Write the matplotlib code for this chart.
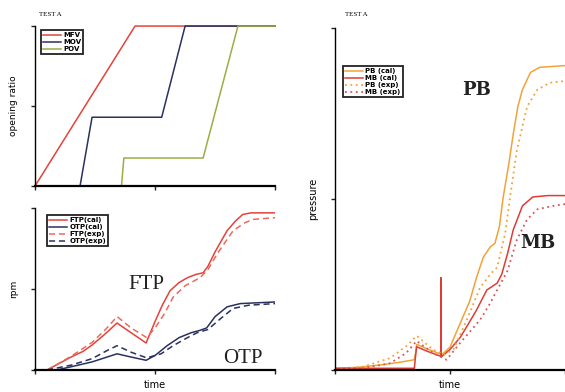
import numpy as np
import matplotlib.pyplot as plt

# ---- valve opening (top left)
t_mfv = [0, 0.833, 2.0]
mfv = [0, 1, 1]
t_mov = [0, 0.375, 0.475, 1.055, 1.25, 2.0]
mov = [0, 0, 0.43, 0.43, 1, 1]
t_pov = [0, 0.72, 0.74, 1.40, 1.69, 2.0]
pov = [0, 0, 0.175, 0.175, 1, 1]

# ---- pump speed (bottom left)
t_ftp_cal = [0.1, 0.2, 0.3, 0.4, 0.475, 0.58, 0.683, 0.8, 0.925, 1.0, 1.06, 1.125, 1.2, 1.27,
             1.34, 1.4, 1.44, 1.5, 1.6, 1.67, 1.73, 1.8, 2.0]
ftp_cal = [0, 0.04, 0.08, 0.115, 0.154, 0.22, 0.29, 0.23, 0.167, 0.30, 0.40, 0.49, 0.54, 0.57,
           0.59, 0.60, 0.64, 0.73, 0.86, 0.92, 0.96, 0.97, 0.97]
t_ftp_exp = [0.1, 0.3, 0.475, 0.6, 0.683, 0.8, 0.93, 1.0, 1.08, 1.15, 1.25, 1.375, 1.44, 1.52,
             1.65, 1.75, 1.82, 2.0]
ftp_exp = [0, 0.085, 0.17, 0.26, 0.33, 0.26, 0.2, 0.26, 0.35, 0.45, 0.52, 0.57, 0.62, 0.72,
           0.86, 0.91, 0.93, 0.94]
t_otp_cal = [0.18, 0.3, 0.475, 0.6, 0.683, 0.8, 0.925, 1.0, 1.1, 1.2, 1.3, 1.375, 1.43, 1.5,
             1.6, 1.71, 2.0]
otp_cal = [0, 0.02, 0.05, 0.08, 0.10, 0.08, 0.06, 0.09, 0.15, 0.2, 0.23, 0.245, 0.26, 0.33,
           0.39, 0.41, 0.42]
t_otp_exp = [0.1, 0.3, 0.475, 0.6, 0.683, 0.8, 0.93, 1.05, 1.15, 1.27, 1.35, 1.44, 1.55, 1.65,
             1.78, 2.0]
otp_exp = [0, 0.03, 0.07, 0.12, 0.15, 0.11, 0.075, 0.1, 0.15, 0.2, 0.23, 0.25, 0.32, 0.38,
           0.40, 0.41]

# ---- pressures (right)
t_pb_cal = [0, 0.2, 0.4, 0.55, 0.69, 0.70, 0.71, 0.8, 0.93, 1.0, 1.08, 1.17, 1.23, 1.29, 1.35,
            1.39, 1.43, 1.46, 1.51, 1.55, 1.59, 1.63, 1.70, 1.78, 2.0]
pb_cal = [0.005, 0.008, 0.015, 0.022, 0.03, 0.05, 0.075, 0.062, 0.045, 0.067, 0.13, 0.2, 0.27,
          0.33, 0.36, 0.37, 0.42, 0.5, 0.6, 0.69, 0.77, 0.82, 0.87, 0.885, 0.89]
t_mb_cal = [0, 0.69, 0.70, 0.71, 0.8, 0.92, 0.921, 0.923, 0.93, 1.0, 1.09, 1.16, 1.23, 1.32,
            1.41, 1.45, 1.5, 1.55, 1.63, 1.72, 1.85, 2.0]
mb_cal = [0.005, 0.005, 0.04, 0.068, 0.055, 0.04, 0.27, 0.04, 0.04, 0.06, 0.096, 0.135, 0.175,
          0.234, 0.254, 0.28, 0.34, 0.41, 0.48, 0.506, 0.51, 0.51]
t_pb_exp = [0, 0.25, 0.48, 0.62, 0.71, 0.85, 0.95, 1.03, 1.15, 1.26, 1.35, 1.41, 1.48, 1.52,
            1.58, 1.67, 1.76, 1.87, 2.0]
pb_exp = [0, 0.01, 0.035, 0.07, 0.10, 0.06, 0.045, 0.06, 0.15, 0.24, 0.28, 0.30, 0.40, 0.5,
          0.64, 0.77, 0.82, 0.84, 0.845]
t_mb_exp = [0, 0.25, 0.48, 0.62, 0.71, 0.85, 0.97, 1.09, 1.18, 1.26, 1.34, 1.41, 1.5, 1.58,
            1.67, 1.76, 1.9, 2.0]
mb_exp = [0, 0.005, 0.02, 0.05, 0.085, 0.05, 0.03, 0.08, 0.115, 0.146, 0.19, 0.234, 0.29, 0.38,
          0.44, 0.47, 0.48, 0.485]

red = "#e2433b"
navy = "#2b315e"
green = "#9aae45"
orange = "#f2a23a"
mbred = "#de3d36"

fig = plt.figure(figsize=(5.65, 3.92), dpi=100)
fig.patch.set_facecolor("white")

ax1 = fig.add_axes([0.062, 0.5255, 0.425, 0.408])
ax2 = fig.add_axes([0.062, 0.0561, 0.425, 0.4133])
ax3 = fig.add_axes([0.593, 0.0561, 0.407, 0.8725])


def style(ax):
    for s in ["top", "right"]:
        ax.spines[s].set_visible(False)
    ax.spines["left"].set_linewidth(1.0)
    ax.spines["bottom"].set_linewidth(1.6)
    ax.set_xlim(0, 2)
    ax.set_ylim(0, 1)
    ax.set_xticks([0, 1, 2])
    ax.set_yticks([0, 0.5, 1])
    ax.set_xticklabels([])
    ax.set_yticklabels([])
    ax.tick_params(direction="out", length=3, width=1.0, colors="#222222")


for a in (ax1, ax2, ax3):
    style(a)

leg_kw = dict(loc="upper left", borderaxespad=0, fancybox=False, edgecolor="#222222",
              framealpha=1, prop={"size": 5, "weight": "bold"}, handlelength=2.6,
              handletextpad=0.3, labelspacing=0.15, borderpad=0.3)

ax1.plot(t_mfv, mfv, color=red, lw=1.1, label="MFV", clip_on=False)
ax1.plot(t_mov, mov, color=navy, lw=1.1, label="MOV", clip_on=False)
ax1.plot(t_pov, pov, color=green, lw=1.1, label="POV", clip_on=False)
ax1.set_ylabel("opening ratio", fontsize=6.5, labelpad=6)
lg = ax1.legend(bbox_to_anchor=(0.025, 0.975), **leg_kw)
lg.get_frame().set_linewidth(1.3)

ax2.plot(t_ftp_cal, ftp_cal, color=red, lw=1.1, label="FTP(cal)")
ax2.plot(t_otp_cal, otp_cal, color=navy, lw=1.1, label="OTP(cal)")
ax2.plot(t_ftp_exp, ftp_exp, color="#ec6a5c", lw=1.1, ls=(0, (4, 2.5)), label="FTP(exp)")
ax2.plot(t_otp_exp, otp_exp, color=navy, lw=1.1, ls=(0, (4, 2.5)), label="OTP(exp)")
ax2.set_ylabel("rpm", fontsize=6.5, labelpad=6)
ax2.set_xlabel("time", fontsize=7, labelpad=1)
lg = ax2.legend(bbox_to_anchor=(0.05, 0.957), **leg_kw)
lg.get_frame().set_linewidth(1.3)
ax2.text(0.93, 0.53, "FTP", fontsize=15, family="Liberation Serif", ha="center", va="center",
         color="#222222")
ax2.text(1.73, 0.07, "OTP", fontsize=15, family="Liberation Serif", ha="center", va="center",
         color="#222222")

ax3.plot(t_pb_cal, pb_cal, color=orange, lw=1.1, label="PB (cal)")
ax3.plot(t_mb_cal, mb_cal, color=mbred, lw=1.1, label="MB (cal)")
ax3.plot(t_pb_exp, pb_exp, color=orange, lw=1.3, ls=(0, (1, 2)), label="PB (exp)")
ax3.plot(t_mb_exp, mb_exp, color="#d9545a", lw=1.3, ls=(0, (1, 2)), label="MB (exp)")
ax3.set_ylabel("pressure", fontsize=7, labelpad=6)
ax3.set_xlabel("time", fontsize=7, labelpad=1)
lg = ax3.legend(bbox_to_anchor=(0.035, 0.889), **leg_kw)
lg.get_frame().set_linewidth(1.3)
ax3.text(1.23, 0.82, "PB", fontsize=13, family="DejaVu Serif", weight="bold", ha="center",
         va="center", color="#222222")
ax3.text(1.76, 0.37, "MB", fontsize=13, family="DejaVu Serif", weight="bold", ha="center",
         va="center", color="#222222")

fig.text(0.069, 0.962, "TEST A", fontsize=5, family="Liberation Serif", ha="left", va="center")
fig.text(0.611, 0.962, "TEST A", fontsize=5, family="Liberation Serif", ha="left", va="center")

plt.savefig("out.png", dpi=100)
